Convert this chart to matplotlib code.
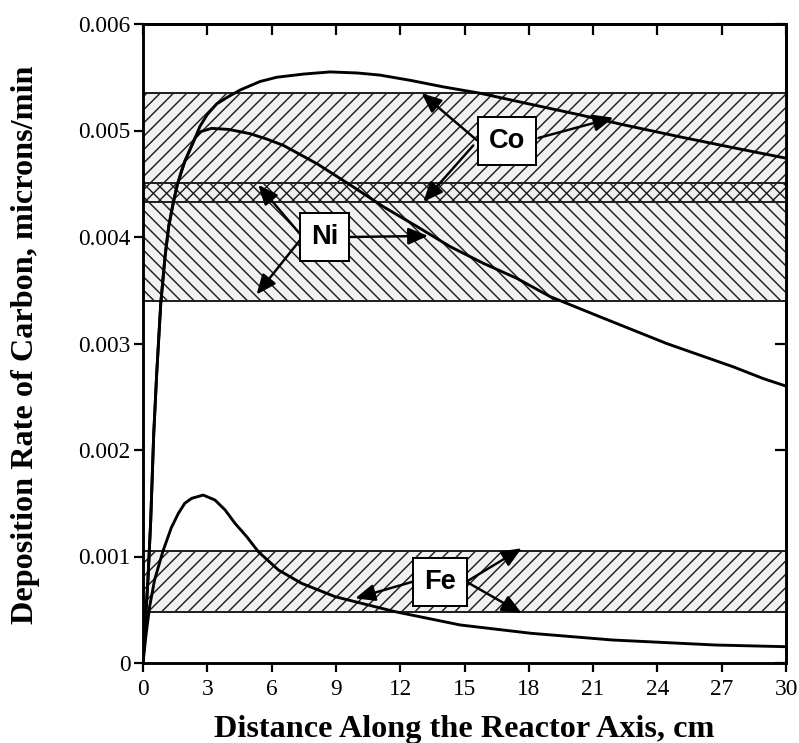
import matplotlib
matplotlib.use("Agg")
import matplotlib.pyplot as plt

# ---------------- data ----------------
x_ticks = [0, 3, 6, 9, 12, 15, 18, 21, 24, 27, 30]
y_ticks = [0, 0.001, 0.002, 0.003, 0.004, 0.005, 0.006]
y_tick_labels = ["0", "0.001", "0.002", "0.003", "0.004", "0.005", "0.006"]

co_x = [0, 0.23, 0.36, 0.5, 0.64, 0.83, 1.03, 1.2, 1.41, 1.6, 1.8, 1.95, 2.19, 2.43,
        2.66, 3.0, 3.44, 4.0, 4.53, 5.46, 6.24, 7.5, 8.73, 10.0, 11.06, 12.5, 14.0,
        15.73, 18.0, 20.4, 22.5, 25.06, 27.5, 30]
co_y = [0, 0.00078, 0.00134, 0.00215, 0.00272, 0.00338, 0.00382, 0.00410, 0.00432,
        0.00449, 0.00462, 0.00471, 0.00482, 0.00493, 0.00504, 0.00515, 0.00525,
        0.00532, 0.00538, 0.00546, 0.0055, 0.00553, 0.00555, 0.00554, 0.00552,
        0.00547, 0.00541, 0.00535, 0.00525, 0.005146, 0.00505, 0.00494, 0.00484,
        0.00474]

ni_x = [0, 0.23, 0.36, 0.5, 0.64, 0.83, 1.03, 1.2, 1.41, 1.6, 1.8, 1.95, 2.19, 2.43,
        2.7, 3.2, 4.0, 5.0, 5.77, 6.55, 8.1, 9.66, 11.21, 12.77, 14.33, 15.88, 17.44,
        19.0, 21.33, 24.43, 27.55, 28.95, 30]
ni_y = [0, 0.00078, 0.00134, 0.00215, 0.00272, 0.00338, 0.00382, 0.00410, 0.00432,
        0.00449, 0.00462, 0.00471, 0.00482, 0.00493, 0.00499, 0.00502, 0.00501,
        0.00497, 0.00492, 0.00486, 0.00469, 0.00449, 0.004285, 0.0041, 0.00391,
        0.003753, 0.003612, 0.00344, 0.00325, 0.0030, 0.00278, 0.00267, 0.00260]

fe_x = [0, 0.15, 0.31, 0.54, 0.93, 1.32, 1.65, 1.95, 2.27, 2.81, 3.36, 3.83, 4.29,
        4.84, 5.38, 6.32, 7.4, 8.96, 10.5, 11.76, 14.8, 18.1, 21.9, 26.7, 30]
fe_y = [0, 0.00028, 0.00053, 0.00078, 0.00105, 0.00127, 0.001405, 0.0015, 0.001546,
        0.001577, 0.00153, 0.001437, 0.001312, 0.001186, 0.001045, 0.000873,
        0.000748, 0.000623, 0.000545, 0.000482, 0.000357, 0.000279, 0.000216,
        0.000169, 0.000153]

# experimental ranges (bands)
co_band = [0.00433, 0.00535]
ni_band = [0.00340, 0.00451]
fe_band = [0.00048, 0.00105]

# ---------------- figure ----------------
DPI = 80
plt.rcParams["hatch.linewidth"] = 1.3
fig = plt.figure(figsize=(799 / DPI, 743 / DPI), dpi=DPI)
ax = fig.add_axes([143 / 799, 1 - 663 / 743, (786 - 143) / 799, (663 - 24) / 743])

fill_c = "#f1f1f1"
hatch_c = "#1e1e1e"
bands = [(co_band, "//"), (ni_band, "\\\\"), (fe_band, "//")]
for (lo, hi), h in bands:
    ax.axhspan(lo, hi, facecolor=fill_c, edgecolor="none", zorder=1)
for (lo, hi), h in bands:
    ax.axhspan(lo, hi, facecolor="none", edgecolor=hatch_c, hatch=h, lw=0, zorder=1.2)
for (lo, hi), h in bands:
    for v in (lo, hi):
        ax.axhline(v, color="#222222", lw=1.8, zorder=1.5)

lw_curve = 2.6
ax.plot(co_x, co_y, color="black", lw=lw_curve, zorder=3, solid_joinstyle="round")
ax.plot(ni_x, ni_y, color="black", lw=lw_curve, zorder=3, solid_joinstyle="round")
ax.plot(fe_x, fe_y, color="black", lw=lw_curve, zorder=3, solid_joinstyle="round")

ax.set_xlim(0, 30)
ax.set_ylim(0, 0.006)

serif = ["Liberation Serif", "DejaVu Serif"]
sans = ["Liberation Sans", "DejaVu Sans"]

ax.set_xticks(x_ticks)
ax.set_xticklabels([str(v) for v in x_ticks], fontfamily=serif, fontsize=21)
ax.set_yticks(y_ticks)
ax.set_yticklabels(y_tick_labels, fontfamily=serif, fontsize=21)
ax.tick_params(axis="both", direction="out", length=8, width=2, color="black")
ax.tick_params(axis="x", pad=6)
ax.tick_params(axis="y", pad=3)

secx = ax.secondary_xaxis("top")
secx.set_xticks(x_ticks)
secx.tick_params(direction="in", length=10, width=2, labeltop=False)
secy = ax.secondary_yaxis("right")
secy.set_yticks(y_ticks)
secy.tick_params(direction="in", length=10, width=2, labelright=False)
for a in (ax, secx, secy):
    for s in a.spines.values():
        s.set_linewidth(2.6)

ax.set_xlabel("Distance Along the Reactor Axis, cm", fontfamily=serif,
              fontsize=29, fontweight="bold")
ax.xaxis.label.set_va("baseline")
ax.xaxis.set_label_coords(0.5, (663 - 737) / 639)
ax.set_ylabel("Deposition Rate of Carbon, microns/min", fontfamily=serif,
              fontsize=29, fontweight="bold")
ax.yaxis.set_label_coords(-0.16, (663 - 344.5) / 639)

# ---------------- labels with arrows ----------------
box = dict(boxstyle="square,pad=0.4", facecolor="white", edgecolor="black", lw=1.8)
arrow = dict(arrowstyle="-|>,head_length=0.75,head_width=0.32", color="black",
             lw=2.2, shrinkA=0, shrinkB=0, mutation_scale=20)

labels = [
    ("Co", (16.99, 0.0049),
     [((15.57, 0.00491), (13.0, 0.00535)),
      ((15.41, 0.00486), (13.08, 0.00433)),
      ((18.45, 0.00493), (21.95, 0.00512))]),
    ("Ni", (8.49, 0.004003),
     [((7.4, 0.00401), (5.38, 0.00449)),
      ((7.4, 0.00399), (5.3, 0.00346)),
      ((9.63, 0.004), (13.3, 0.00401))]),
    ("Fe", (13.86, 0.000762),
     [((12.58, 0.000763), (9.9, 0.000607)),
      ((15.13, 0.000768), (17.67, 0.001077)),
      ((15.13, 0.000758), (17.67, 0.000467))]),
]
for txt, pos, arrows in labels:
    for start, tip in arrows:
        ax.annotate("", xy=tip, xytext=start, arrowprops=arrow, zorder=4)
    ax.text(pos[0], pos[1], txt, ha="center", va="center", fontfamily=sans,
            fontsize=24.5, fontweight="bold", bbox=box, zorder=5)

fig.savefig("out.png", dpi=DPI)
